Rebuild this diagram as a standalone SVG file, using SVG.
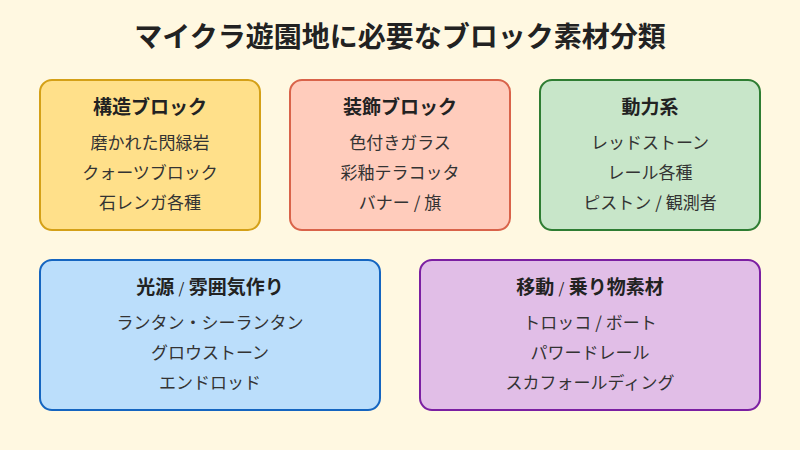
<svg xmlns="http://www.w3.org/2000/svg" width="800" height="450" viewBox="0 0 800 450">
<style>
text{font-family:"Noto Sans CJK JP","Noto Sans",sans-serif;text-anchor:middle;fill:#222}
.t{font-size:28px;font-weight:bold}
.h{font-size:19px;font-weight:bold}
.i{font-size:17px;fill:#333}
.s{font-size:15px;font-weight:normal}
rect{stroke-width:2}
</style>
<rect width="800" height="450" fill="#FFF8E1"/>
<text class="t" x="400" y="47">マイクラ遊園地に必要なブロック素材分類</text>
<g id="n1"><rect x="40" y="80" width="220" height="150" rx="12" fill="#FFE08A" stroke="#D4A017"/>
<text class="h" x="150" y="114">構造ブロック</text>
<text class="i" x="150" y="149">磨かれた閃緑岩</text><text class="i" x="150" y="179">クォーツブロック</text><text class="i" x="150" y="209">石レンガ各種</text></g>
<g id="n2"><rect x="290" y="80" width="220" height="150" rx="12" fill="#FFCCBC" stroke="#D9634A"/>
<text class="h" x="400" y="114">装飾ブロック</text>
<text class="i" x="400" y="149">色付きガラス</text><text class="i" x="400" y="179">彩釉テラコッタ</text><text class="i" x="400" y="209">バナー / 旗</text></g>
<g id="n3"><rect x="540" y="80" width="220" height="150" rx="12" fill="#C8E6C9" stroke="#2E7D32"/>
<text class="h" x="650" y="114">動力系</text>
<text class="i" x="650" y="149">レッドストーン</text><text class="i" x="650" y="179">レール各種</text><text class="i" x="650" y="209">ピストン / 観測者</text></g>
<g id="n4"><rect x="40" y="260" width="340" height="150" rx="12" fill="#BBDEFB" stroke="#1565C0"/>
<text class="h" x="210" y="294">光源 <tspan class="s">/</tspan> 雰囲気作り</text>
<text class="i" x="210" y="329">ランタン・シーランタン</text><text class="i" x="210" y="359">グロウストーン</text><text class="i" x="210" y="389">エンドロッド</text></g>
<g id="n5"><rect x="420" y="260" width="340" height="150" rx="12" fill="#E1BEE7" stroke="#7B1FA2"/>
<text class="h" x="590" y="294">移動 <tspan class="s">/</tspan> 乗り物素材</text>
<text class="i" x="590" y="329">トロッコ / ボート</text><text class="i" x="590" y="359">パワードレール</text><text class="i" x="590" y="389">スカフォールディング</text></g>
<g id="connectors"/>
</svg>
